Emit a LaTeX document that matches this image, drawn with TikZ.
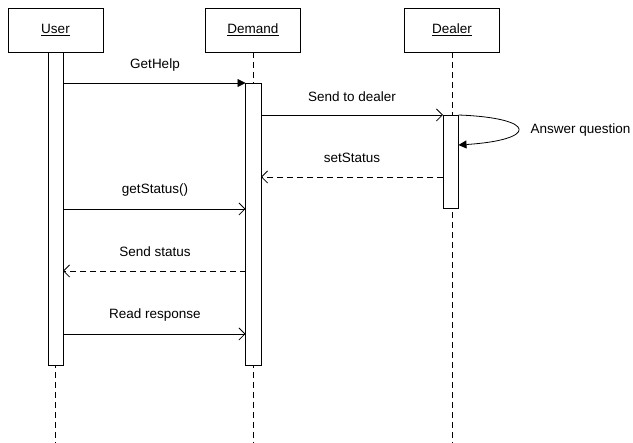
\documentclass[tikz,border=0pt]{standalone}
\usepackage{fontspec}
\setmainfont{Liberation Sans}
\usetikzlibrary{arrows.meta}
\begin{document}
\begin{tikzpicture}[x=1pt,y=-1pt,
  obj/.style={draw, line width=0.8pt, minimum width=95pt, minimum height=44pt, inner sep=0pt, font=\fontsize{13.5}{16}\selectfont},
  lifeline/.style={draw, line width=0.8pt, dash pattern=on 6pt off 4pt},
  act/.style={draw, fill=white, line width=0.8pt},
  msg/.style={line width=0.8pt, -{Straight Barb[length=6pt,width=12pt]}},
  ret/.style={msg, dash pattern=on 6pt off 4pt},
  call/.style={line width=0.8pt, -{Triangle[length=8pt,width=8pt]}},
  lbl/.style={font=\fontsize{13.5}{16}\selectfont, inner sep=0pt}]
\useasboundingbox (0,0) rectangle (633,443);

% participants
\node[obj] (user) at (55.5,30) {\underline{User}};
\node[obj] (demand) at (253,30) {\underline{Demand}};
\node[obj] (dealer) at (452,30) {\underline{Dealer}};

% lifelines
\coordinate (uend) at (55.5,443);
\coordinate (dend) at (253,443);
\coordinate (rend) at (452,443);
\draw[lifeline] (user.south) -- (uend);
\draw[lifeline] (demand.south) -- (dend);
\draw[lifeline] (dealer.south) -- (rend);

% activation bars
\draw[act] (48,52) rectangle (63,365);
\draw[act] (245.5,83) rectangle (261,365);
\draw[act] (443,115) rectangle (458.5,208);

% message end points
\coordinate (a1) at (63,83);   \coordinate (b1) at (245.5,83);
\coordinate (a2) at (261,115); \coordinate (b2) at (443,115);
\coordinate (a3) at (458.5,115); \coordinate (b3) at (458.5,145);
\coordinate (a4) at (443,177); \coordinate (b4) at (261,177);
\coordinate (a5) at (63,209);  \coordinate (b5) at (245.5,209);
\coordinate (a6) at (245.5,271); \coordinate (b6) at (63,271);
\coordinate (a7) at (63,334);  \coordinate (b7) at (245.5,334);

% messages
\draw[call] (a1) -- (b1);
\node[lbl] (l1) at (155,65) {GetHelp};
\draw[msg] (a2) -- (b2);
\node[lbl] (l2) at (352,97) {Send to dealer};
\draw[call] (a3) .. controls (538,118) and (538,140) .. (b3);
\node[lbl, anchor=west] (l3) at (530.5,130) {Answer question};
\draw[ret] (a4) -- (b4);
\node[lbl] (l4) at (352,158) {setStatus};
\draw[msg] (a5) -- (b5);
\node[lbl] (l5) at (155,190) {getStatus()};
\draw[ret] (a6) -- (b6);
\node[lbl] (l6) at (155,252) {Send status};
\draw[msg] (a7) -- (b7);
\node[lbl] (l7) at (155,315) {Read response};
\end{tikzpicture}
\end{document}
